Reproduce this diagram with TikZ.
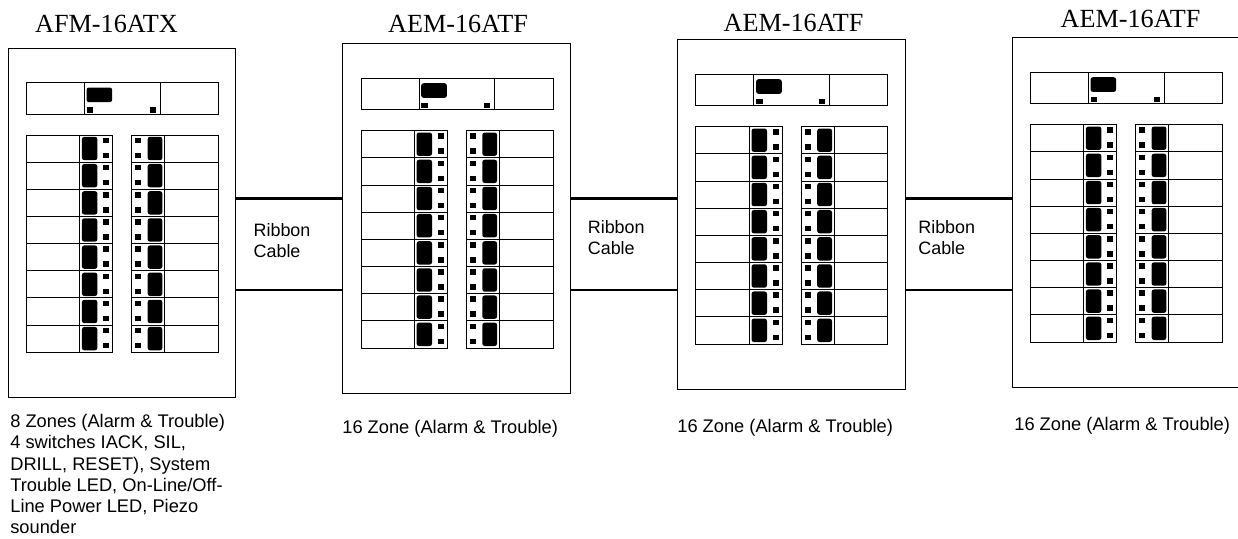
\documentclass[tikz,border=0pt]{standalone}
\usepackage{fontspec}
\setmainfont{Liberation Serif}
\setsansfont{Liberation Sans}
\usetikzlibrary{positioning,calc}

\begin{document}
\begin{tikzpicture}[
  x=0.02cm, y=-0.02cm,
  panel/.style={draw, inner sep=0pt, outer sep=0pt, anchor=north west, minimum width=4.55cm, minimum height=6.99cm, line width=0.55pt},
  frame/.style={draw, line width=0.55pt},
  lamp/.style={fill=black, rounded corners=1.4pt},
  led/.style={fill=black},
  cable/.style={line width=1.6pt},
  ttl/.style={font=\fontsize{14.9}{17}\selectfont, anchor=base, inner sep=0pt},
  lbl/.style={font=\sffamily\fontsize{10.4}{12.1}\selectfont, align=left, anchor=north west, inner sep=0pt},
  riblbl/.style={lbl, font=\sffamily\fontsize{10.2}{11.7}\selectfont},
]
\useasboundingbox (0,0) rectangle (1238,538);

% ===== panels =====
\foreach \p/\dx/\dy in {1/0/0, 2/334.7/-4.3, 3/669.6/-8.3, 4/1004/-10.3} {
  \begin{scope}[shift={(\dx,\dy)}]
    \node[panel] (pan\p) at (8,48) {};

    % top strip
    \draw[frame] (26.3,82.7) rectangle (218.3,114);
    \draw[frame] (84.3,82.7) -- (84.3,114);
    \draw[frame] (160,82.7) -- (160,114);
    \fill[lamp] (86.5,87.5) rectangle (112.2,102.2);
    \fill[led] (86.7,107) rectangle (93.3,112.7);
    \fill[led] (149.7,107) rectangle (155.7,112.7);

    % zone rows
    \foreach \r in {0,...,7} {
      \pgfmathsetmacro{\ry}{135+27.16*\r}
      \begin{scope}[shift={(0,\ry)}]
        \draw[frame] (26.3,0) rectangle (112.7,27.16);
        \draw[frame] (79.7,0) -- (79.7,27.16);
        \fill[lamp] (81.9,1.8) rectangle (97.4,25.2);
        \fill[led] (103,2.7) rectangle (109,8.3);
        \fill[led] (103,17.7) rectangle (109,23.3);
        \draw[frame] (131.7,0) rectangle (218.3,27.16);
        \draw[frame] (164.7,0) -- (164.7,27.16);
        \fill[lamp] (147.6,1.8) rectangle (162.4,25.2);
        \fill[led] (135,2.7) rectangle (141,8.3);
        \fill[led] (135,17.7) rectangle (141,23.3);
      \end{scope}
    }
  \end{scope}
}

% ===== titles =====
\node[ttl] (ttla) at (106.5,32) {AFM-16ATX};
\node[ttl] (ttlb) at (458,32) {AEM-16ATF};
\node[ttl] (ttlc) at (793.5,31.5) {AEM-16ATF};
\node[ttl] (ttld) at (1130.5,27) {AEM-16ATF};

% ===== ribbon cables =====
\coordinate (captop) at (0,198.3);
\coordinate (capbot) at (0,290);
\foreach \a/\b in {1/2, 2/3, 3/4} {
  \draw[cable] (pan\a.east |- captop) -- (pan\b.west |- captop);
  \draw[cable] (pan\a.east |- capbot) -- (pan\b.west |- capbot);
}
\node[riblbl] (riba) at (253.3,223.5) {Ribbon\\Cable};
\node[riblbl] (ribb) at (587.5,220.5) {Ribbon\\Cable};
\node[riblbl] (ribc) at (918,220.5) {Ribbon\\Cable};

% ===== captions =====
\node[lbl] (capa) at (10,414) {8 Zones (Alarm \& Trouble)\\4 switches IACK, SIL,\\DRILL, RESET), System\\Trouble LED, On-Line/Off-\\Line Power LED, Piezo\\sounder};
\node[lbl] (capb) at (342,420) {16 Zone (Alarm \& Trouble)};
\node[lbl] (capc) at (677,419) {16 Zone (Alarm \& Trouble)};
\node[lbl] (capd) at (1014,417) {16 Zone (Alarm \& Trouble)};

\end{tikzpicture}
\end{document}
